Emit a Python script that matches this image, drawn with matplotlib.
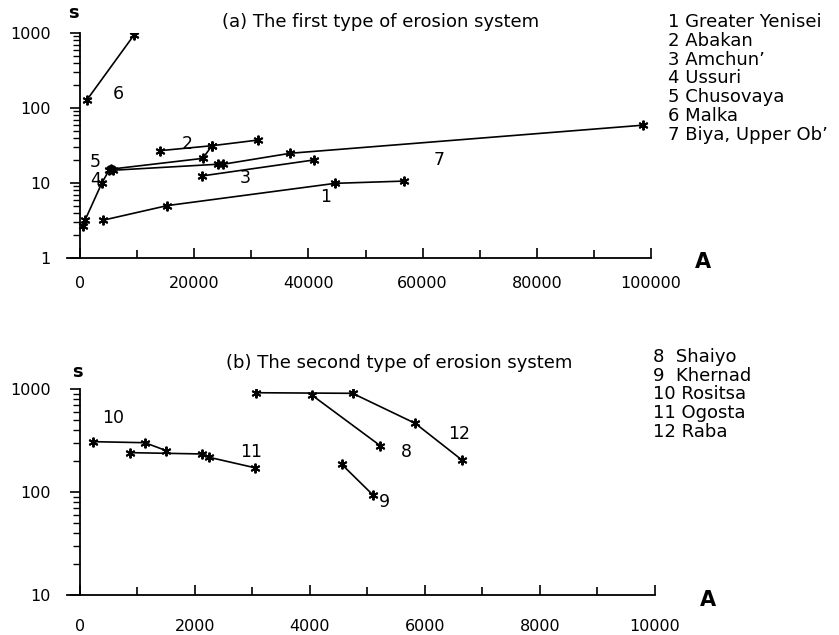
import matplotlib.pyplot as plt
from matplotlib.ticker import FixedLocator, LogLocator, NullFormatter

plt.rcParams["font.family"] = ["DejaVu Sans"]

W, H = 839, 635

# (a) first type of erosion system
names_a = ["Greater Yenisei", "Abakan", "Amchun\u2019", "Ussuri",
           "Chusovaya", "Malka", "Biya, Upper Ob\u2019"]
a1_x = [4100, 15300, 44700, 56700]
a1_y = [3.2, 5.0, 9.9, 10.6]
a2_x = [14000, 23100, 31200]
a2_y = [27, 31.4, 37.4]
a3_x = [21300, 41000]
a3_y = [12.4, 20.3]
a4_x = [470, 880, 3800, 5100]
a4_y = [2.7, 3.2, 9.9, 14.9]
a5_x = [5400, 21500, 23100]
a5_y = [15.3, 21.3, 31.4]
a6_x = [1200, 9500]
a6_y = [128, 950]
a7_x = [5800, 24200, 25100, 36800, 98600]
a7_y = [14.8, 17.8, 17.8, 24.9, 59]

# (b) second type of erosion system
names_b = ["Shaiyo", "Khernad", "Rositsa", "Ogosta", "Raba"]
b8_x = [4030, 5220]
b8_y = [875, 282]
b9_x = [4550, 5100]
b9_y = [186, 93]
b10_x = [230, 1130, 1500]
b10_y = [308, 301, 252]
b11_x = [870, 2130, 2250, 3040]
b11_y = [241, 234, 217, 172]
b12_x = [3060, 4740, 5830, 6640]
b12_y = [920, 908, 464, 205]


def px(x, y):
    return x / W, 1 - y / H


def make_axes(left, top, right, bottom, xpad):
    ax = plt.gcf().add_axes([left / W, 1 - bottom / H,
                             (right - left) / W, (bottom - top) / H])
    ax.set_yscale("log")
    ax.spines["top"].set_visible(False)
    ax.spines["right"].set_visible(False)
    ax.spines["left"].set_position(("data", 0))
    for s in ("left", "bottom"):
        ax.spines[s].set_linewidth(1.3)
    ax.tick_params(axis="x", direction="in", length=7, width=1.2,
                   pad=xpad, labelsize=11.5)
    ax.tick_params(axis="x", which="minor", direction="in", length=6, width=1.2)
    ax.tick_params(axis="y", direction="out", length=7, width=1.2,
                   pad=14, labelsize=11.5)
    ax.tick_params(axis="y", which="minor", direction="out", length=5, width=1.0)
    ax.yaxis.set_minor_locator(LogLocator(base=10, subs=range(2, 10)))
    ax.yaxis.set_minor_formatter(NullFormatter())
    ax.yaxis.set_major_formatter(plt.FuncFormatter(lambda v, p: f"{v:g}"))
    return ax


fig = plt.figure(figsize=(W / 100, H / 100), dpi=100)

style = dict(color="black", lw=1.2, marker=(6, 2, 0), ms=7, mew=1.4)

# panel (a)
ax = make_axes(67, 33, 651, 258, 13)
for xs, ys in [(a1_x, a1_y), (a2_x, a2_y), (a3_x, a3_y), (a4_x, a4_y),
               (a5_x, a5_y), (a6_x, a6_y), (a7_x, a7_y)]:
    ax.plot(xs, ys, **style)
ax.set_xlim(-2280, 100000)
ax.set_ylim(1, 1000)
ax.xaxis.set_major_locator(FixedLocator(range(0, 100001, 20000)))
ax.xaxis.set_minor_locator(FixedLocator(range(10000, 100000, 20000)))
for lab, x, y in [("1", 43100, 6.5), ("2", 18700, 33), ("3", 28900, 11.7),
                  ("4", 2800, 11), ("5", 2600, 19), ("6", 6700, 154),
                  ("7", 62900, 20.3)]:
    ax.text(x, y, lab, ha="center", va="center", fontsize=12.5)

fig.text(*px(73, 13), "s", ha="center", va="center", fontsize=13, weight="bold")
fig.text(*px(703, 262), "A", ha="center", va="center", fontsize=15, weight="bold")
fig.text(*px(222, 22), "(a) The first type of erosion system",
         ha="left", va="center", fontsize=13)
for i, n in enumerate(names_a):
    fig.text(*px(668, 22 + i * 18.8), f"{i + 1} {n}", ha="left", va="center",
             fontsize=13)

# panel (b)
ax = make_axes(67, 389, 655, 595, 17)
for xs, ys in [(b8_x, b8_y), (b9_x, b9_y), (b10_x, b10_y), (b11_x, b11_y),
               (b12_x, b12_y)]:
    ax.plot(xs, ys, **style)
ax.set_xlim(-226, 10000)
ax.set_ylim(10, 1000)
ax.xaxis.set_major_locator(FixedLocator(range(0, 10001, 2000)))
ax.xaxis.set_minor_locator(FixedLocator(range(1000, 10000, 2000)))
for lab, x, y in [("10", 574, 523), ("11", 2974, 245), ("8", 5670, 245),
                  ("9", 5290, 80), ("12", 6590, 366)]:
    ax.text(x, y, lab, ha="center", va="center", fontsize=12.5)

fig.text(*px(77, 372), "s", ha="center", va="center", fontsize=13, weight="bold")
fig.text(*px(708, 600), "A", ha="center", va="center", fontsize=15, weight="bold")
fig.text(*px(226, 363), "(b) The second type of erosion system",
         ha="left", va="center", fontsize=13)
for i, n in enumerate(names_b):
    num = str(i + 8)
    gap = "  " if len(num) == 1 else " "
    fig.text(*px(653, 357 + i * 18.7), f"{num}{gap}{n}", ha="left",
             va="center", fontsize=13)

fig.savefig("out.png", dpi=100)
